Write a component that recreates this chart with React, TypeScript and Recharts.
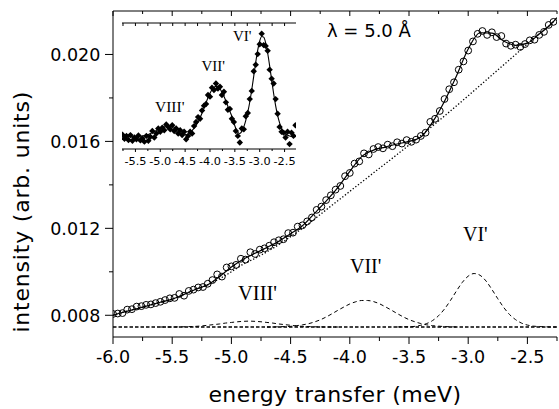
import React from 'react';
import { LineChart, Line, XAxis, YAxis } from 'recharts';

// ---------- main spectrum (open circles) ----------
const ENERGY = [-6.00,-5.96,-5.92,-5.88,-5.84,-5.80,-5.76,-5.72,-5.68,-5.64,-5.60,-5.56,-5.52,-5.48,-5.44,-5.40,-5.36,-5.32,-5.28,-5.24,-5.20,-5.16,-5.12,-5.08,-5.04,-5.00,-4.96,-4.92,-4.88,-4.84,-4.80,-4.76,-4.72,-4.68,-4.64,-4.60,-4.56,-4.52,-4.48,-4.44,-4.40,-4.36,-4.32,-4.28,-4.24,-4.20,-4.16,-4.12,-4.08,-4.04,-4.00,-3.96,-3.92,-3.88,-3.84,-3.80,-3.76,-3.72,-3.68,-3.64,-3.60,-3.56,-3.52,-3.48,-3.44,-3.40,-3.36,-3.32,-3.28,-3.24,-3.20,-3.16,-3.12,-3.08,-3.04,-3.00,-2.96,-2.92,-2.88,-2.84,-2.80,-2.76,-2.72,-2.68,-2.64,-2.60,-2.56,-2.52,-2.48,-2.44,-2.40,-2.36,-2.32,-2.28];
const INTENSITY = [0.00806,0.00808,0.00810,0.00826,0.00828,0.00840,0.00842,0.00848,0.00850,0.00856,0.00862,0.00870,0.00878,0.00880,0.00898,0.00890,0.00912,0.00918,0.00928,0.00930,0.00945,0.00962,0.00988,0.00978,0.01020,0.01025,0.01032,0.01060,0.01056,0.01090,0.01082,0.01102,0.01108,0.01120,0.01136,0.01145,0.01150,0.01178,0.01180,0.01208,0.01214,0.01232,0.01250,0.01285,0.01300,0.01330,0.01352,0.01378,0.01395,0.01440,0.01455,0.01498,0.01508,0.01545,0.01540,0.01565,0.01574,0.01568,0.01585,0.01578,0.01596,0.01590,0.01606,0.01598,0.01608,0.01625,0.01640,0.01690,0.01704,0.01740,0.01795,0.01840,0.01872,0.01930,0.01968,0.02018,0.02060,0.02095,0.02108,0.02090,0.02102,0.02080,0.02085,0.02050,0.02040,0.02045,0.02035,0.02048,0.02065,0.02068,0.02090,0.02104,0.02136,0.02150];

// fitted total curve
const FIT_E = [-6.0,-5.9,-5.8,-5.7,-5.6,-5.5,-5.4,-5.3,-5.2,-5.1,-5.0,-4.9,-4.8,-4.7,-4.6,-4.5,-4.4,-4.3,-4.2,-4.1,-4.0,-3.9,-3.8,-3.7,-3.6,-3.5,-3.4,-3.3,-3.2,-3.1,-3.0,-2.9,-2.8,-2.7,-2.6,-2.5,-2.4,-2.3,-2.25];
const FIT_I = [0.00800,0.00816,0.00830,0.00845,0.00860,0.00874,0.00896,0.00920,0.00940,0.00978,0.01022,0.01058,0.01085,0.01112,0.01140,0.01175,0.01212,0.01268,0.01325,0.01388,0.01462,0.01530,0.01560,0.01574,0.01588,0.01600,0.01620,0.01690,0.01785,0.01900,0.02025,0.02100,0.02098,0.02062,0.02042,0.02052,0.02094,0.02140,0.02170];

// background (dotted)
const BG_E = [-6.0,-5.9,-5.8,-5.7,-5.6,-5.5,-5.4,-5.3,-5.2,-5.1,-5.0,-4.9,-4.8,-4.7,-4.6,-4.5,-4.4,-4.2,-4.0,-3.8,-3.6,-3.4,-3.2,-3.0,-2.8,-2.6,-2.4,-2.3,-2.25];
const BG_I = [0.00800,0.00816,0.00830,0.00845,0.00860,0.00874,0.00896,0.00920,0.00940,0.00968,0.01000,0.01035,0.01062,0.01092,0.01125,0.01162,0.01200,0.01285,0.01370,0.01455,0.01540,0.01627,0.01717,0.01810,0.01905,0.02000,0.02096,0.02140,0.02170];

// constant offset line
const BASE_E = [-6.0, -2.25];
const BASE_I = [0.00746, 0.00746];

// gaussian components (dashed)
const G6_E = [-3.6,-3.55,-3.5,-3.45,-3.4,-3.35,-3.3,-3.25,-3.2,-3.15,-3.1,-3.05,-3.0,-2.95,-2.9,-2.85,-2.8,-2.75,-2.7,-2.65,-2.6,-2.55,-2.5,-2.45,-2.4,-2.35,-2.3,-2.25];
const G6_I = [0.00746,0.00747,0.00747,0.00749,0.00754,0.00762,0.00776,0.00798,0.00829,0.00868,0.00911,0.00951,0.00980,0.00992,0.00984,0.00958,0.00919,0.00876,0.00836,0.00803,0.00780,0.00764,0.00755,0.00750,0.00748,0.00747,0.00746,0.00746];
const G7_E = [-4.7,-4.65,-4.6,-4.55,-4.5,-4.45,-4.4,-4.35,-4.3,-4.25,-4.2,-4.15,-4.1,-4.05,-4.0,-3.95,-3.9,-3.85,-3.8,-3.75,-3.7,-3.65,-3.6,-3.55,-3.5,-3.45,-3.4,-3.35,-3.3,-3.25,-3.2,-3.15,-3.1];
const G7_I = [0.00746,0.00746,0.00747,0.00748,0.00749,0.00752,0.00756,0.00761,0.00769,0.00779,0.00792,0.00807,0.00823,0.00838,0.00852,0.00862,0.00868,0.00868,0.00863,0.00853,0.00839,0.00824,0.00808,0.00793,0.00780,0.00770,0.00762,0.00756,0.00752,0.00750,0.00748,0.00747,0.00746];
const G8_E = [-5.6,-5.5,-5.4,-5.3,-5.25,-5.2,-5.15,-5.1,-5.05,-5.0,-4.95,-4.9,-4.85,-4.8,-4.75,-4.7,-4.65,-4.6,-4.55,-4.5,-4.45,-4.4,-4.3,-4.2,-4.1];
const G8_I = [0.00746,0.00746,0.00747,0.00749,0.00751,0.00754,0.00757,0.00760,0.00764,0.00767,0.00770,0.00772,0.00773,0.00772,0.00770,0.00767,0.00764,0.00760,0.00757,0.00754,0.00751,0.00749,0.00747,0.00746,0.00746];

const X_TICKS = [-6,-5.75,-5.5,-5.25,-5,-4.75,-4.5,-4.25,-4,-3.75,-3.5,-3.25,-3,-2.75,-2.5,-2.25];
const Y_TICKS = [0.008,0.010,0.012,0.014,0.016,0.018,0.020];

// ---------- inset (difference spectrum, units of 1e-3) ----------
const INSET_E = ENERGY.slice(6);
const INSET_DATA = [0.05,-0.05,0.02,-0.08,0.04,-0.10,-0.02,-0.06,0.03,-0.09,-0.04,-0.12,0.02,-0.10,0.00,0.14,-0.02,0.08,0.20,0.12,0.22,0.16,0.30,0.24,0.18,0.28,0.14,0.20,0.08,0.16,0.04,0.12,-0.06,0.02,0.12,0.08,0.26,0.36,0.48,0.44,0.64,0.76,0.80,1.02,0.98,1.20,1.14,1.30,1.18,1.22,1.02,1.10,0.84,0.66,0.68,0.44,0.36,0.14,0.02,-0.14,0.20,0.18,0.50,0.58,0.92,1.12,1.60,1.76,2.02,2.26,2.52,2.24,2.22,2.10,1.64,1.42,1.30,0.92,0.56,0.24,0.12,0.10,-0.02,0.12,-0.18,0.10,0.02,0.28];
const INSET_FIT = [0,0,0,0,0,0,0,0.005,0.007,0.012,0.018,0.028,0.04,0.056,0.076,0.10,0.127,0.156,0.186,0.214,0.238,0.257,0.267,0.27,0.263,0.248,0.229,0.203,0.176,0.14,0.10,0.07,0.05,0.06,0.10,0.15,0.21,0.28,0.36,0.46,0.578,0.70,0.829,0.952,1.06,1.147,1.205,1.23,1.218,1.171,1.093,0.991,0.873,0.746,0.619,0.50,0.34,0.20,0.11,0.08,0.13,0.24,0.40,0.60,0.849,1.149,1.482,1.819,2.115,2.34,2.45,2.434,2.293,2.046,1.732,1.388,1.056,0.761,0.52,0.337,0.207,0.12,0.066,0.035,0.017,0.008,0.004,0.002];
const INSET_X_TICKS = [-5.75,-5.5,-5.25,-5,-4.75,-4.5,-4.25,-4,-3.75,-3.5,-3.25,-3,-2.75,-2.5];
const INSET_Y_TICKS = [0,0.5,1,1.5,2,2.5];

const rows = (xs: number[], ys: number[]) => xs.map((x, i) => ({ x, y: ys[i] }));

const SANS = 'DejaVu Sans';
const SERIF = 'Liberation Serif';

const isHalf = (v: number) => Math.abs(v * 2 - Math.round(v * 2)) < 1e-6;
const isMajorY = (v: number) => Math.round(v * 1000) % 4 === 0;

const BottomTick = (p: any) => {
  const v = p.payload.value;
  const m = isHalf(v);
  return (
    <g>
      <line x1={p.x} x2={p.x} y1={p.y} y2={p.y + (m ? 7 : 4)} stroke="#000" strokeWidth={1} />
      {m && (
        <text x={p.x} y={p.y + 26.3} textAnchor="middle" fontFamily={SANS} fontSize={17.5} fill="#000">
          {v.toFixed(1)}
        </text>
      )}
    </g>
  );
};
const TopTick = (p: any) => {
  const m = isHalf(p.payload.value);
  return <line x1={p.x} x2={p.x} y1={p.y} y2={p.y + (m ? 5 : 3)} stroke="#000" strokeWidth={1} />;
};
const LeftTick = (p: any) => {
  const v = p.payload.value;
  const m = isMajorY(v);
  return (
    <g>
      <line x1={p.x} x2={p.x - (m ? 8 : 4)} y1={p.y} y2={p.y} stroke="#000" strokeWidth={1} />
      {m && (
        <text x={p.x - 12.7} y={p.y + 6.6} textAnchor="end" fontFamily={SANS} fontSize={17.5} fill="#000">
          {v.toFixed(3)}
        </text>
      )}
    </g>
  );
};
const RightTick = (p: any) => {
  const m = isMajorY(p.payload.value);
  return <line x1={p.x} x2={p.x - (m ? 5 : 3)} y1={p.y} y2={p.y} stroke="#000" strokeWidth={1} />;
};

// inset ticks
const InsetBottomTick = (p: any) => {
  const v = p.payload.value;
  const m = isHalf(v);
  return (
    <g>
      <line x1={p.x} x2={p.x} y1={p.y} y2={p.y + (m ? 3 : 2)} stroke="#000" strokeWidth={1} />
      {m && (
        <text x={p.x} y={p.y + 15.7} textAnchor="middle" fontFamily={SANS} fontSize={11.3} fill="#000">
          {v.toFixed(1)}
        </text>
      )}
    </g>
  );
};
const InsetTopTick = (p: any) => (
  <line x1={p.x} x2={p.x} y1={p.y} y2={p.y + 3} stroke="#000" strokeWidth={1} />
);
const InsetLeftTick = (p: any) => (
  <line x1={p.x} x2={p.x + 3} y1={p.y} y2={p.y} stroke="#000" strokeWidth={1} />
);
const InsetRightTick = (p: any) => (
  <line x1={p.x} x2={p.x - 3} y1={p.y} y2={p.y} stroke="#000" strokeWidth={1} />
);

const Diamond = (p: any) => {
  if (p.cx == null || p.cy == null) return <g key={p.index} />;
  const r = 3.2;
  return (
    <path
      key={p.index}
      d={`M${p.cx},${p.cy - r}L${p.cx + r},${p.cy}L${p.cx},${p.cy + r}L${p.cx - r},${p.cy}Z`}
      fill="#000"
    />
  );
};

export default function App() {
  return (
    <div style={{ position: 'absolute', left: 0, top: 0, width: 559, height: 409, background: '#fff' }}>
      <div style={{ position: 'absolute', left: 0, top: 0 }}>
        <LineChart width={559} height={409} margin={{ top: 11, right: 2, left: 0, bottom: 0 }}>
          <XAxis
            type="number"
            dataKey="x"
            domain={[-6, -2.25]}
            allowDataOverflow
            ticks={X_TICKS}
            interval={0}
            tickSize={0}
            tickMargin={0}
            tickLine={false}
            tick={<BottomTick />}
            height={72}
            axisLine={{ stroke: '#000' }}
          />
          <XAxis
            xAxisId="top"
            orientation="top"
            mirror
            type="number"
            dataKey="x"
            domain={[-6, -2.25]}
            allowDataOverflow
            ticks={X_TICKS}
            interval={0}
            tickSize={0}
            tickMargin={0}
            tickLine={false}
            tick={<TopTick />}
            axisLine={{ stroke: '#000' }}
          />
          <YAxis
            type="number"
            domain={[0.007, 0.022]}
            allowDataOverflow
            ticks={Y_TICKS}
            interval={0}
            tickSize={0}
            tickMargin={0}
            tickLine={false}
            tick={<LeftTick />}
            width={113}
            axisLine={{ stroke: '#000' }}
          />
          <YAxis
            yAxisId="right"
            orientation="right"
            mirror
            type="number"
            domain={[0.007, 0.022]}
            allowDataOverflow
            ticks={Y_TICKS}
            interval={0}
            tickSize={0}
            tickMargin={0}
            tickLine={false}
            tick={<RightTick />}
            width={0}
            axisLine={{ stroke: '#000' }}
          />
          <Line data={rows(BASE_E, BASE_I)} dataKey="y" type="linear" stroke="#000" strokeWidth={1.7} strokeDasharray="3.5 2" dot={false} activeDot={false} isAnimationActive={false} />
          <Line data={rows(G8_E, G8_I)} dataKey="y" type="monotone" stroke="#000" strokeWidth={1} strokeDasharray="4 3" dot={false} activeDot={false} isAnimationActive={false} />
          <Line data={rows(G7_E, G7_I)} dataKey="y" type="monotone" stroke="#000" strokeWidth={1} strokeDasharray="4 3" dot={false} activeDot={false} isAnimationActive={false} />
          <Line data={rows(G6_E, G6_I)} dataKey="y" type="monotone" stroke="#000" strokeWidth={1} strokeDasharray="4 3" dot={false} activeDot={false} isAnimationActive={false} />
          <Line data={rows(BG_E, BG_I)} dataKey="y" type="monotone" stroke="#000" strokeWidth={1.3} strokeDasharray="1.3 2" dot={false} activeDot={false} isAnimationActive={false} />
          <Line data={rows(FIT_E, FIT_I)} dataKey="y" type="monotone" stroke="#000" strokeWidth={1.2} dot={false} activeDot={false} isAnimationActive={false} />
          <Line data={rows(ENERGY, INTENSITY)} dataKey="y" type="linear" stroke="none" dot={{ r: 3.4, fill: 'none', stroke: '#000', strokeWidth: 1 }} activeDot={false} isAnimationActive={false} />
        </LineChart>
      </div>

      <div style={{ position: 'absolute', left: 112, top: 13 }}>
        <LineChart width={194} height={160} margin={{ top: 10, right: 10, left: 10, bottom: 4 }}>
          <XAxis
            type="number"
            dataKey="x"
            domain={[-5.77, -2.27]}
            allowDataOverflow
            ticks={INSET_X_TICKS}
            interval={0}
            tickSize={0}
            tickMargin={0}
            tickLine={false}
            tick={<InsetBottomTick />}
            height={20}
            axisLine={{ stroke: '#000' }}
          />
          <XAxis
            xAxisId="top"
            orientation="top"
            mirror
            type="number"
            dataKey="x"
            domain={[-5.77, -2.27]}
            allowDataOverflow
            ticks={INSET_X_TICKS}
            interval={0}
            tickSize={0}
            tickMargin={0}
            tickLine={false}
            tick={<InsetTopTick />}
            axisLine={{ stroke: '#000' }}
          />
          <YAxis
            mirror
            type="number"
            domain={[-0.3, 2.78]}
            allowDataOverflow
            ticks={INSET_Y_TICKS}
            interval={0}
            tickSize={0}
            tickMargin={0}
            tickLine={false}
            tick={<InsetLeftTick />}
            width={0}
            axisLine={{ stroke: '#000' }}
          />
          <YAxis
            yAxisId="right"
            orientation="right"
            mirror
            type="number"
            domain={[-0.3, 2.78]}
            allowDataOverflow
            ticks={INSET_Y_TICKS}
            interval={0}
            tickSize={0}
            tickMargin={0}
            tickLine={false}
            tick={<InsetRightTick />}
            width={0}
            axisLine={{ stroke: '#000' }}
          />
          <Line data={rows(INSET_E, INSET_FIT)} dataKey="y" type="monotone" stroke="#000" strokeWidth={1.1} dot={false} activeDot={false} isAnimationActive={false} />
          <Line data={rows(INSET_E, INSET_DATA)} dataKey="y" type="linear" stroke="none" dot={Diamond} activeDot={false} isAnimationActive={false} />
        </LineChart>
      </div>

      <svg width={559} height={409} style={{ position: 'absolute', left: 0, top: 0, pointerEvents: 'none' }}>
        <text x={327} y={37} fontFamily={SANS} fontSize={18} fill="#000">λ = 5.0 Å</text>
        <text x={463} y={241} fontFamily={SERIF} fontSize={20} fill="#000">VI'</text>
        <text x={350} y={273.3} fontFamily={SERIF} fontSize={20} fill="#000">VII'</text>
        <text x={238} y={300} fontFamily={SERIF} fontSize={20.5} fill="#000">VIII'</text>
        <text x={233} y={41} fontFamily={SERIF} fontSize={15} fill="#000">VI'</text>
        <text x={201.5} y={71} fontFamily={SERIF} fontSize={15} fill="#000">VII'</text>
        <text x={155} y={112} fontFamily={SERIF} fontSize={15.5} fill="#000">VIII'</text>
        <text x={335} y={401.7} textAnchor="middle" fontFamily={SANS} fontSize={22} letterSpacing={0.4} fill="#000">energy transfer (meV)</text>
        <text x={29} y={211.7} transform="rotate(-90 29 211.7)" textAnchor="middle" fontFamily={SANS} fontSize={22} letterSpacing={0.8} fill="#000">intensity (arb. units)</text>
      </svg>
    </div>
  );
}
